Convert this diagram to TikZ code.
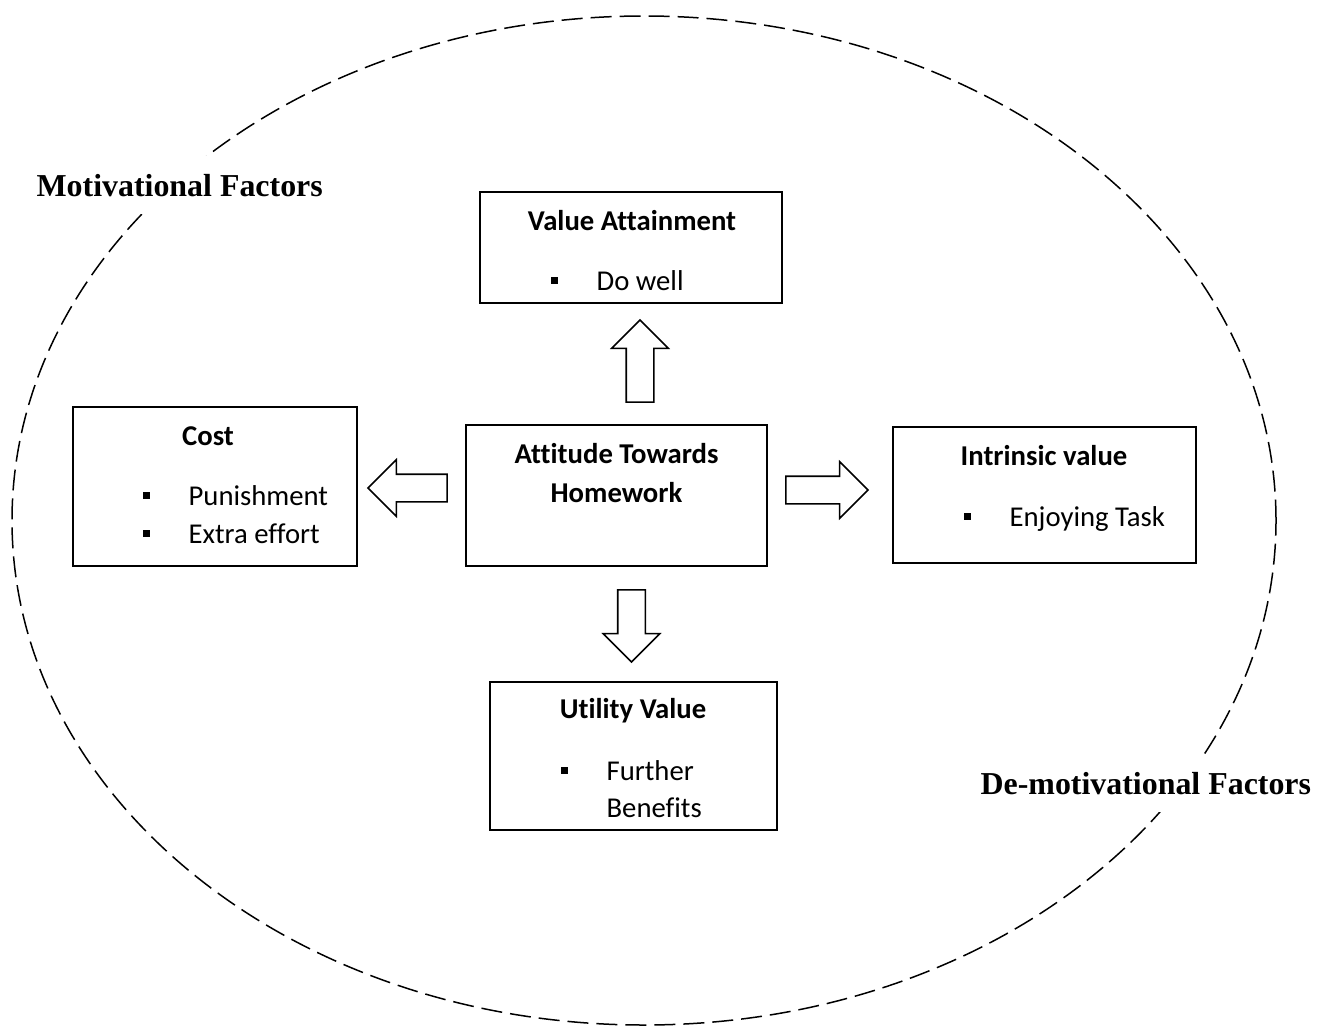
\documentclass[tikz,border=0pt]{standalone}
\usepackage{fontspec}
\setmainfont{Carlito}[Ligatures=NoCommon]
\newfontfamily\factorfont{Liberation Serif}
\usetikzlibrary{shapes.arrows}
\newcommand{\sqb}{\makebox[46pt][l]{\rule[6pt]{7pt}{7pt}}}

\begin{document}
\begin{tikzpicture}
[x=1pt, y=-1pt, line width=1.2pt,
 frame/.style={draw, rectangle, inner sep=0pt},
 title/.style={anchor=base, inner sep=0pt, font=\bfseries\fontsize{28.7}{38}\selectfont},
 item/.style={anchor=base west, inner sep=0pt, font=\fontsize{28.7}{38}\selectfont},
 bigarrow/.style={draw, single arrow, line width=1.6pt, inner xsep=0pt, inner ysep=13pt,
   single arrow head extend=14.5pt},
 factor/.style={anchor=base west, inner xsep=3pt, inner ysep=18pt, fill=white,
   font=\factorfont\bfseries\fontsize{31.9}{38}\selectfont}]
\useasboundingbox (0,0) rectangle (1328,1026);
\draw[line width=1.5pt, dash pattern=on 21pt off 8pt] (644,520.5) ellipse (632pt and 504.5pt); %% outer
\node[factor] (motiv) at (33,196) {Motivational Factors};
\node[factor] (demotiv) at (977,794) {De-motivational Factors};
%%
\node[frame, minimum width=301pt, minimum height=141pt, line width=2.4pt] (attitude) at (616.5,495.5) {}; %% centre
\node[title] (attitude-t1) at (616.5,463) {Attitude Towards};
\node[title] (attitude-t2) at (616.5,502) {Homework};
%%
\node[frame, minimum width=302pt, minimum height=111pt] (attain) at (631,247.5) {}; %% top
\node[title] (attain-t) at (632,230) {Value Attainment};
\node[item] (attain-1) at (550,290) {\sqb Do well};
%%
\node[frame, minimum width=284pt, minimum height=159pt] (cost) at (215,486.5) {}; %% left
\node[title] (cost-t) at (208,445) {Cost};
\node[item] (cost-1) at (142,505) {\sqb Punishment};
\node[item] (cost-2) at (142,543) {\sqb Extra effort};
%%
\node[frame, minimum width=303pt, minimum height=136pt] (intrinsic) at (1044.5,495) {}; %% right
\node[title] (intrinsic-t) at (1044,465) {Intrinsic value};
\node[item] (intrinsic-1) at (963,526) {\sqb Enjoying Task};
%%
\node[frame, minimum width=287pt, minimum height=148pt] (utility) at (633.5,756) {}; %% bottom
\node[title] (utility-t) at (633,718) {Utility Value};
\node[item] (utility-1) at (560,780) {\sqb Further};
\node[item] (utility-2) at (606,817) {Benefits};
%%
\node[bigarrow, minimum height=82pt, rotate=90] (to-attain) at (640,368) {}; %% up
\node[bigarrow, minimum height=79pt, rotate=180] (to-cost) at (414.5,488) {}; %% left
\node[bigarrow, minimum height=82pt] (to-intrinsic) at (820,490) {}; %% right
\node[bigarrow, minimum height=72pt, rotate=-90] (to-utility) at (631.5,619) {}; %% down
\end{tikzpicture}
\end{document}
